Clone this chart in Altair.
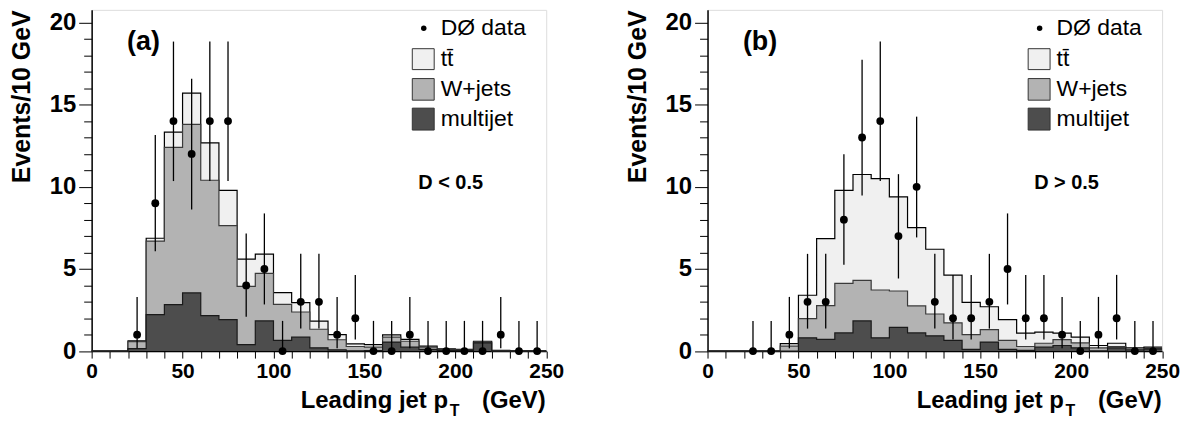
import altair as alt
import pandas as pd

FONT = "Liberation Sans"

# ---------------- data ----------------
bin_lo = list(range(0, 250, 10))          # 10 GeV bins, 0..250
centers = list(range(25, 250, 10))        # data-point bin centres

# panel (a): D < 0.5  -- stacked tops: multijet, multijet+W, total
a_mj = [0, 0, 0.15, 2.22, 2.83, 3.54, 2.16, 1.92, 0.40, 1.84, 0.65, 0.85, 0.20,
        0.08, 0.02, 0.03, 0.55, 0.24, 0.10, 0.05, 0.03, 0.50, 0.00, 0.00, 0.00]
a_w = [0, 0, 0.58, 6.70, 12.40, 13.80, 10.40, 7.64, 3.94, 4.73, 2.85, 2.38, 1.33,
       0.69, 0.28, 0.24, 0.85, 0.60, 0.24, 0.10, 0.07, 0.55, 0.02, 0.00, 0.00]
a_tot = [0, 0, 0.62, 6.87, 13.33, 15.70, 12.67, 9.78, 5.60, 5.90, 3.56, 2.95, 1.82,
         1.00, 0.44, 0.40, 0.99, 0.71, 0.30, 0.14, 0.10, 0.60, 0.04, 0.01, 0.01]
a_counts = [1, 9, 14, 12, 14, 14, 4, 5, 0, 3, 3, 1, 2, 0, 0, 1, 0, 0, 0, 0, 1, 0, 0]

# panel (b): D > 0.5
b_mj = [0, 0, 0, 0, 0.00, 0.81, 0.71, 1.11, 1.84, 0.81, 1.45, 1.11, 0.93,
        0.65, 0.10, 0.55, 0.10, 0.04, 0.24, 0.34, 0.20, 0.02, 0.20, 0.02, 0.12]
b_w = [0, 0, 0, 0, 0.30, 1.98, 2.77, 4.12, 4.30, 3.72, 3.66, 2.75, 2.26,
       1.72, 1.00, 1.31, 0.65, 0.28, 0.48, 0.70, 0.50, 0.20, 0.28, 0.10, 0.16]
b_tot = [0, 0, 0, 0, 0.45, 3.40, 6.85, 9.78, 10.75, 10.50, 9.39, 7.52, 6.20,
         4.63, 2.97, 2.70, 1.92, 1.09, 1.15, 1.09, 0.85, 0.34, 0.48, 0.20, 0.24]
b_counts = [0, 0, 1, 3, 3, 8, 13, 14, 7, 10, 3, 2, 2, 3, 5, 2, 2, 1, 0, 1, 2, 0, 0]

err_n = list(range(15))
err_lo = [0.0, 0.17, 0.71, 1.37, 2.09, 2.84, 3.62, 4.42, 5.25, 6.08, 6.92, 7.77, 8.62, 9.47, 10.35]
err_hi = [1.84, 3.30, 4.64, 5.92, 7.16, 8.38, 9.58, 10.77, 11.98, 13.16, 14.27, 15.42, 16.57, 17.73, 18.84]

legend_labels = ["t" + "t\u0304", "W+jets", "multijet"]

# ---------------- styling ----------------
FILL = {"ttbar": "#f0f0f0", "wjets": "#b3b3b3", "multijet": "#4d4d4d"}
LINE = {"ttbar": "#000000", "wjets": "#3a3a3a", "multijet": "#1a1a1a"}
W, H = 456.5, 342.7
YMAX = 20.77

xs = alt.Scale(domain=[0, 250], nice=False, zero=False)
ys = alt.Scale(domain=[0, YMAX], nice=False)

x_axis = alt.Axis(values=list(range(0, 251, 10)),
                  labelExpr="datum.value % 50 === 0 ? datum.label : ''",
                  tickSize=7, tickColor="black", tickWidth=1,
                  labelFont=FONT, labelFontSize=21, labelFontWeight="bold",
                  labelColor="black", labelPadding=2, labelOverlap=False,
                  labelFlush=False, domainColor="black", domainWidth=1.5,
                  grid=False, title=None)
y_axis = alt.Axis(values=list(range(0, 21)),
                  labelExpr="datum.value % 5 === 0 ? datum.label : ''",
                  tickSize={"condition": {"test": "datum.value % 5 === 0", "value": 13}, "value": 8},
                  tickColor="black", tickWidth=1,
                  labelFont=FONT, labelFontSize=24, labelFontWeight="bold",
                  labelColor="black", labelPadding=3, labelOverlap=False,
                  labelFlush=False, domainColor="black", domainWidth=1.5,
                  grid=False, title="Events/10 GeV", titleFont=FONT,
                  titleFontSize=25, titleFontWeight="bold", titleColor="black",
                  titleAnchor="end", titlePadding=15)


def X(f):
    return alt.X(f, scale=xs, axis=x_axis)


def Y(f):
    return alt.Y(f, scale=ys, axis=y_axis)


def panel(mj, w, tot, counts, tag, cut):
    layers = []
    # stacked histogram: draw cumulative tops from the highest down
    for key, tops in [("ttbar", tot), ("wjets", w), ("multijet", mj)]:
        df = pd.DataFrame({"x": bin_lo + [250], "y": tops + [tops[-1]]})
        layers.append(alt.Chart(df).mark_area(interpolate="step-after", fill=FILL[key],
                                              strokeWidth=0, opacity=1).encode(
            x=X("x:Q"), y=Y("y:Q"), y2=alt.datum(0)))
        layers.append(alt.Chart(df).mark_line(interpolate="step-after", color=LINE[key],
                                              strokeWidth=1.2).encode(
            x=X("x:Q"), y=Y("y:Q")))

    pts = pd.DataFrame(dict(c=centers, n=counts,
                            lo=[err_lo[err_n.index(n)] for n in counts],
                            hi=[err_hi[err_n.index(n)] for n in counts]))
    layers.append(alt.Chart(pts).mark_rule(color="black", strokeWidth=1.3).encode(
        x=X("c:Q"), y=Y("lo:Q"), y2="hi:Q"))
    layers.append(alt.Chart(pts).mark_circle(size=62, color="black", opacity=1).encode(
        x=X("c:Q"), y=Y("n:Q")))

    one = pd.DataFrame({"k": [0]})

    def txt(s, x, y, size, weight="normal", align="left", baseline="middle"):
        return alt.Chart(one).mark_text(font=FONT, fontSize=size, fontWeight=weight,
                                        align=align, baseline=baseline, color="black").encode(
            x=alt.value(x), y=alt.value(y), text=alt.value(s))

    # custom legend
    layers.append(alt.Chart(one).mark_circle(size=30, color="black", opacity=1).encode(
        x=alt.value(333.5), y=alt.value(18.4)))
    layers.append(txt("DØ data", 350.5, 18.4, 23))
    box_top = [39, 69, 98.7]
    box_bot = [60, 90.7, 120.7]
    text_y = [49.7, 79.7, 109.7]
    leg_fill = [FILL["ttbar"], FILL["wjets"], FILL["multijet"]]
    for i in range(3):
        layers.append(alt.Chart(one).mark_rect(fill=leg_fill[i], stroke="#333333", strokeWidth=1).encode(
            x=alt.value(322), x2=alt.value(344), y=alt.value(box_top[i]), y2=alt.value(box_bot[i])))
        layers.append(txt(legend_labels[i], 350.5, text_y[i], 23))

    layers.append(txt(cut, 328, 173.7, 20, "bold"))
    layers.append(txt(tag, 35.5, 32.7, 27, "bold"))

    # x-axis title with subscript
    layers.append(txt("Leading jet p", 210, 399.7, 24, "bold", baseline="alphabetic"))
    layers.append(txt("T", 359.5, 407.7, 16, "bold", baseline="alphabetic"))
    layers.append(txt("(GeV)", 456, 399.7, 24, "bold", align="right", baseline="alphabetic"))

    return alt.layer(*layers).properties(width=W, height=H)


pa = panel(a_mj, a_w, a_tot, a_counts, "(a)", "D < 0.5")
pb = panel(b_mj, b_w, b_tot, b_counts, "(b)", "D > 0.5")

chart = alt.hconcat(pa, pb, spacing=161.5, bounds="flush").properties(
    padding={"left": 0, "top": 0, "right": 5, "bottom": 0}
).configure_view(stroke="black", strokeWidth=1).configure(background="white")

chart.save("out.html", embed_options={"renderer": "svg", "actions": False})
